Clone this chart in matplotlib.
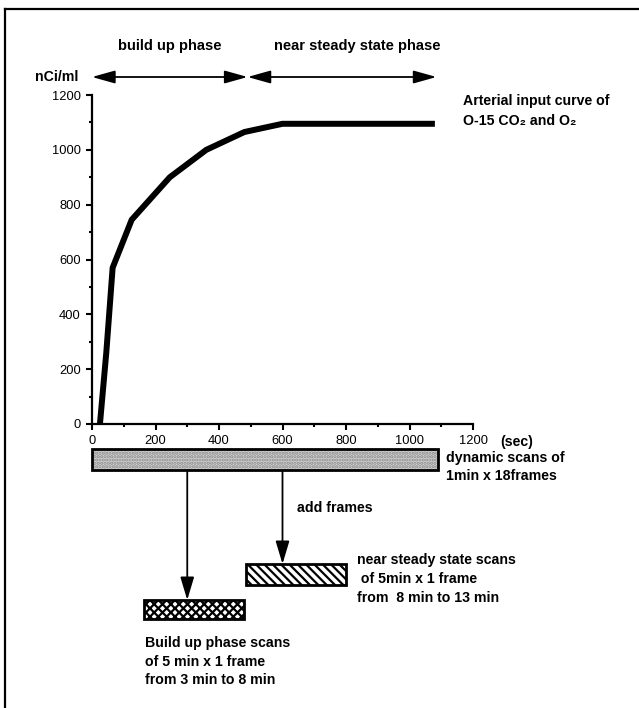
import numpy as np
import matplotlib
matplotlib.use("Agg")
import matplotlib.pyplot as plt
import matplotlib.transforms as mtransforms
from matplotlib.patches import Rectangle
from matplotlib.lines import Line2D

plt.rcParams['font.family'] = ['Liberation Sans', 'DejaVu Sans']
plt.rcParams['hatch.linewidth'] = 1.6

# arterial input curve (sec, nCi/ml)
t_sec = [25, 45, 65, 125, 245, 360, 480, 600, 1080]
conc = [0, 260, 570, 745, 900, 1000, 1065, 1095, 1095]

# phases (sec)
phase_bounds = [0, 490, 1085]
phase_names = ['build up phase', 'near steady state phase']

# scan frames (sec)
dyn_scan = (0, 1090)
build_scan = (165, 480)
steady_scan = (485, 800)
add_x = [300, 600]   # where frames are summed

W, H = 639, 708
fig = plt.figure(figsize=(W / 100, H / 100), dpi=100)

def fx(px):
    return px / W

def fy(py):
    return 1 - py / H

ax = fig.add_axes([fx(92), fy(424), fx(473) - fx(92), fy(95) - fy(424)])
ax.plot(t_sec, conc, color='black', lw=4.3, solid_joinstyle='round', solid_capstyle='butt', clip_on=False)
ax.set_xlim(0, 1200)
ax.set_ylim(0, 1200)
ax.set_xticks(np.arange(0, 1201, 200))
ax.set_xticks(np.arange(0, 1201, 100), minor=True)
ax.set_yticks(np.arange(0, 1201, 200))
ax.set_yticks(np.arange(0, 1201, 100), minor=True)
for s in ['top', 'right']:
    ax.spines[s].set_visible(False)
for s in ['left', 'bottom']:
    ax.spines[s].set_linewidth(1.6)
ax.tick_params(which='major', direction='out', length=4, width=1.5, labelsize=9.3, pad=4)
ax.tick_params(which='minor', direction='out', length=2.5, width=1.5)

# x in seconds, y in figure fraction
trans = mtransforms.blended_transform_factory(ax.transData, fig.transFigure)

fs = 10.2

# phase arrows on top
for i in range(len(phase_names)):
    ax.annotate('', xy=(phase_bounds[i + 1], fy(77)), xytext=(phase_bounds[i], fy(77)),
                xycoords=trans, textcoords=trans, annotation_clip=False,
                arrowprops=dict(arrowstyle='<|-|>,head_length=1.0,head_width=0.28',
                                color='black', lw=1.3, shrinkA=0, shrinkB=0,
                                mutation_scale=14))
fig.text(fx(170), fy(46), phase_names[0], ha='center', va='center', fontsize=10.5, fontweight='bold')
fig.text(fx(357), fy(46), phase_names[1], ha='center', va='center', fontsize=10.5, fontweight='bold')
fig.text(fx(35), fy(77), 'nCi/ml', ha='left', va='center', fontsize=fs, fontweight='bold')
fig.text(fx(463), fy(101), 'Arterial input curve of', ha='left', va='center', fontsize=fs, fontweight='bold')
fig.text(fx(463), fy(121), 'O-15 CO\u2082 and O\u2082', ha='left', va='center', fontsize=fs, fontweight='bold')
fig.text(fx(500), fy(442), '(sec)', ha='left', va='center', fontsize=fs, fontweight='bold')

# scan boxes
def scan_box(span, y0, y1, face, hatch, hcol):
    r = Rectangle((span[0], fy(y1)), span[1] - span[0], fy(y0) - fy(y1), transform=trans,
                  facecolor=face, edgecolor=hcol, hatch=hatch, lw=0, clip_on=False)
    fig.add_artist(r)
    b = Rectangle((span[0], fy(y1)), span[1] - span[0], fy(y0) - fy(y1), transform=trans,
                  fill=False, edgecolor='black', lw=2, clip_on=False)
    fig.add_artist(b)

scan_box(dyn_scan, 449, 470, '#d2d2d2', '.....', '#8a8a8a')
scan_box(build_scan, 600, 619, 'white', 'xxxx', 'black')
scan_box(steady_scan, 564, 585, 'white', '\\' * 4, 'black')

# arrows from dynamic scans down to summed frames
ax.annotate('', xy=(add_x[0], fy(600)), xytext=(add_x[0], fy(470)),
            xycoords=trans, textcoords=trans, annotation_clip=False,
            arrowprops=dict(arrowstyle='-|>,head_length=1.0,head_width=0.3',
                            color='black', lw=1.3, shrinkA=0, shrinkB=0, mutation_scale=14))
ax.annotate('', xy=(add_x[1], fy(564)), xytext=(add_x[1], fy(470)),
            xycoords=trans, textcoords=trans, annotation_clip=False,
            arrowprops=dict(arrowstyle='-|>,head_length=1.0,head_width=0.3',
                            color='black', lw=1.3, shrinkA=0, shrinkB=0, mutation_scale=14))

fig.text(fx(446), fy(458), 'dynamic scans of', ha='left', va='center', fontsize=fs, fontweight='bold')
fig.text(fx(446), fy(476), '1min x 18frames', ha='left', va='center', fontsize=fs, fontweight='bold')
fig.text(fx(297), fy(508), 'add frames', ha='left', va='center', fontsize=fs, fontweight='bold')

steady_lines = ['near steady state scans', ' of 5min x 1 frame', 'from  8 min to 13 min']
for i, s in enumerate(steady_lines):
    fig.text(fx(357), fy(560 + 19 * i), s, ha='left', va='center', fontsize=fs, fontweight='bold')
build_lines = ['Build up phase scans', 'of 5 min x 1 frame', 'from 3 min to 8 min']
for i, s in enumerate(build_lines):
    fig.text(fx(145), fy(643 + 18.5 * i), s, ha='left', va='center', fontsize=fs, fontweight='bold')

# frame around the figure (left and top edges visible)
fig.add_artist(Line2D([fx(5), fx(5)], [fy(9), 0], color='black', lw=1.6))
fig.add_artist(Line2D([fx(5), 1], [fy(9), fy(9)], color='black', lw=1.6))

fig.savefig('out.png', dpi=100)
